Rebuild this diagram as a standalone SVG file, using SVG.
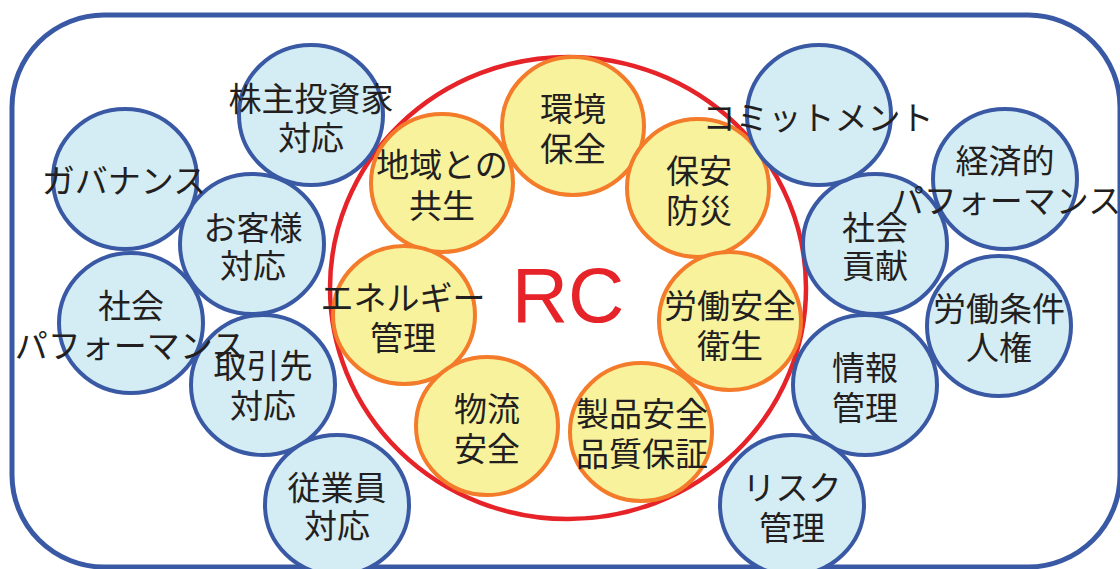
<svg xmlns="http://www.w3.org/2000/svg" width="1120" height="569" viewBox="0 0 1120 569">
<style>
.frame{fill:none;stroke:#3a59a5;stroke-width:5}
.ring{fill:none;stroke:#e62329;stroke-width:4.5}
.y{fill:#f8f29c;stroke:#f37b2a;stroke-width:4}
.b{fill:#d4ecf3;stroke:#3a59a5;stroke-width:4}
text{font-family:"Noto Sans CJK JP","Noto Sans",sans-serif;font-size:33px;fill:#231f20;text-anchor:middle}
.rc{font-family:"Liberation Sans",Arial,sans-serif;font-size:78px;fill:#e62329}
</style>
<rect class="frame" x="12" y="15" width="1108" height="552" rx="92" ry="92"/>
<ellipse class="ring" cx="568" cy="288" rx="238" ry="231"/>

<g id="n-kankyo"><ellipse class="y" cx="573" cy="126" rx="71" ry="69"/><text x="573" y="121">環境<tspan x="573" dy="40">保全</tspan></text></g>
<g id="n-chiiki"><ellipse class="y" cx="442" cy="183" rx="71" ry="69"/><text x="442" y="177">地域との<tspan x="442" dy="41">共生</tspan></text></g>
<g id="n-hoan"><ellipse class="y" cx="698" cy="188" rx="71" ry="69"/><text x="699" y="183">保安<tspan x="699" dy="40">防災</tspan></text></g>
<g id="n-energy"><ellipse class="y" cx="404" cy="315" rx="71" ry="69"/><text x="403" y="310">エネルギー<tspan x="403" dy="40">管理</tspan></text></g>
<g id="n-roudou"><ellipse class="y" cx="730" cy="321" rx="71" ry="69"/><text x="730" y="318">労働安全<tspan x="730" dy="40">衛生</tspan></text></g>
<g id="n-butsuryu"><ellipse class="y" cx="487" cy="426" rx="71" ry="69"/><text x="487" y="421">物流<tspan x="487" dy="40">安全</tspan></text></g>
<g id="n-seihin"><ellipse class="y" cx="641" cy="432" rx="71" ry="69"/><text x="642" y="426">製品安全<tspan x="642" dy="40">品質保証</tspan></text></g>

<g id="n-torihiki"><ellipse class="b" cx="263" cy="385" rx="72" ry="70"/><text x="263" y="378">取引先<tspan x="263" dy="40">対応</tspan></text></g>
<g id="n-shakaiperf"><ellipse class="b" cx="131" cy="323" rx="72" ry="70"/><text x="131" y="318">社会<tspan x="130" dy="40">パフォーマンス</tspan></text></g>
<g id="n-okyaku"><ellipse class="b" cx="252" cy="244" rx="72" ry="70"/><text x="253" y="240">お客様<tspan x="253" dy="38">対応</tspan></text></g>
<g id="n-governance"><ellipse class="b" cx="125" cy="179" rx="72" ry="70"/><text x="124" y="193">ガバナンス</text></g>
<g id="n-kabunushi"><ellipse class="b" cx="311" cy="115" rx="72" ry="70"/><text x="311" y="111">株主投資家<tspan x="311" dy="39">対応</tspan></text></g>
<g id="n-jugyoin"><ellipse class="b" cx="337" cy="505" rx="72" ry="70"/><text x="337" y="500">従業員<tspan x="337" dy="38">対応</tspan></text></g>
<g id="n-koken"><ellipse class="b" cx="875" cy="244" rx="72" ry="70"/><text x="875" y="240">社会<tspan x="875" dy="38">貢献</tspan></text></g>
<g id="n-keizai"><ellipse class="b" cx="1005" cy="179" rx="72" ry="70"/><text x="1005" y="173">経済的<tspan x="1006" dy="40">パフォーマンス</tspan></text></g>
<g id="n-commit"><ellipse class="b" cx="819" cy="115" rx="72" ry="70"/><text x="818" y="130">コミットメント</text></g>
<g id="n-jinken"><ellipse class="b" cx="999" cy="326" rx="72" ry="70"/><text x="999" y="321">労働条件<tspan x="999" dy="39">人権</tspan></text></g>
<g id="n-joho"><ellipse class="b" cx="865" cy="385" rx="72" ry="70"/><text x="865" y="380">情報<tspan x="865" dy="40">管理</tspan></text></g>
<g id="n-risk"><ellipse class="b" cx="792" cy="505" rx="72" ry="70"/><text x="792" y="500">リスク<tspan x="792" dy="40">管理</tspan></text></g>

<g id="n-rc"><text class="rc" x="568" y="322">RC</text></g>
</svg>
